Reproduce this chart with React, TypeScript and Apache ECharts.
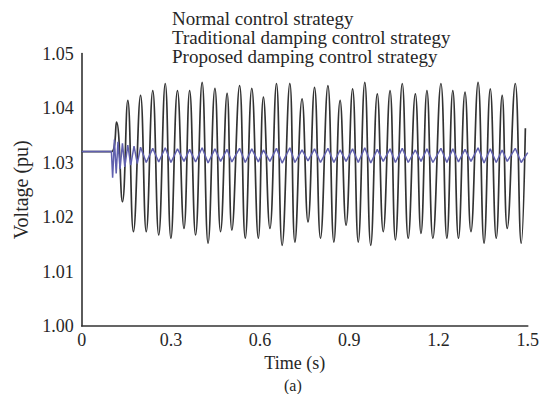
import React, { useEffect, useRef } from "react";
import * as echarts from "echarts";

const seriesNames = [
  "Normal control strategy",
  "Traditional damping control strategy",
  "Proposed damping control strategy",
];

const xTicks = [0, 0.3, 0.6, 0.9, 1.2, 1.5];
const yTicks = [1.0, 1.01, 1.02, 1.03, 1.04, 1.05];

// Normal control strategy: extrema
const normalTimes = [
  0, 0.1, 0.117, 0.137, 0.155, 0.174, 0.198, 0.217, 0.239, 0.259, 0.281, 0.3,
  0.322, 0.344, 0.363, 0.383, 0.405, 0.425, 0.448, 0.467, 0.489, 0.505, 0.531, 0.55, 0.572, 0.594,
  0.611, 0.633, 0.655, 0.674, 0.7, 0.717, 0.741, 0.761, 0.783, 0.803, 0.828, 0.848, 0.869, 0.889,
  0.911, 0.93, 0.952, 0.972, 0.994, 1.014, 1.037, 1.055, 1.078, 1.098, 1.122, 1.141, 1.161, 1.181,
  1.208, 1.228, 1.248, 1.267, 1.289, 1.309, 1.333, 1.353, 1.374, 1.394, 1.414, 1.431, 1.458, 1.478, 1.492,
];
const normalValues = [
  1.032, 1.032, 1.0374, 1.0228, 1.0414, 1.0173, 1.0423, 1.0173, 1.0432, 1.0167, 1.0445, 1.0161,
  1.0432, 1.0179, 1.0432, 1.0167, 1.0447, 1.0152, 1.0436, 1.0173, 1.0427, 1.0176, 1.0441, 1.0161, 1.0436, 1.0161,
  1.042, 1.0179, 1.0445, 1.0148, 1.0445, 1.0154, 1.0417, 1.0191, 1.0438, 1.0161, 1.0441, 1.0154, 1.0414, 1.0185,
  1.0435, 1.0154, 1.0447, 1.0148, 1.0426, 1.0173, 1.0432, 1.0158, 1.0445, 1.0161, 1.0426, 1.017, 1.0432, 1.0161,
  1.0445, 1.0161, 1.0432, 1.0161, 1.0429, 1.0173, 1.0447, 1.0152, 1.0435, 1.0161, 1.0423, 1.0179, 1.0445, 1.0152, 1.0363,
];

// Proposed damping control strategy
const proposedTimes = [
  0, 0.1, 0.104, 0.11, 0.116, 0.122, 0.129, 0.137, 0.145, 0.155, 0.165, 0.176, 0.187, 0.198,
  0.217, 0.239, 0.259, 0.281, 0.3,
  0.322, 0.344, 0.363, 0.383, 0.405, 0.425, 0.448, 0.467, 0.489, 0.505, 0.531, 0.55, 0.572, 0.594,
  0.611, 0.633, 0.655, 0.674, 0.7, 0.717, 0.741, 0.761, 0.783, 0.803, 0.828, 0.848, 0.869, 0.889,
  0.911, 0.93, 0.952, 0.972, 0.994, 1.014, 1.037, 1.055, 1.078, 1.098, 1.122, 1.141, 1.161, 1.181,
  1.208, 1.228, 1.248, 1.267, 1.289, 1.309, 1.333, 1.353, 1.374, 1.394, 1.414, 1.431, 1.458, 1.478,
  1.5,
];
const proposedValues = [
  1.032, 1.032, 1.0272, 1.0342, 1.028, 1.0338, 1.0288, 1.0335, 1.0292, 1.0332, 1.0295, 1.033, 1.0298, 1.0328,
  1.03, 1.0326, 1.0301, 1.0327, 1.03,
  1.0325, 1.0302, 1.0324, 1.0301, 1.0327, 1.0299, 1.0325, 1.0302, 1.0324, 1.0301, 1.0326, 1.03, 1.0325, 1.0301,
  1.0323, 1.0302, 1.0326, 1.0299, 1.0327, 1.03, 1.0323, 1.0303, 1.0325, 1.03, 1.0326, 1.03, 1.0323, 1.0302,
  1.0325, 1.03, 1.0327, 1.0299, 1.0324, 1.0302, 1.0325, 1.03, 1.0326, 1.03, 1.0323, 1.0302, 1.0325, 1.03,
  1.0326, 1.03, 1.0325, 1.0301, 1.0324, 1.0302, 1.0327, 1.0299, 1.0325, 1.03, 1.0323, 1.0302, 1.0326, 1.03,
  1.0318,
];

const FONT = "'Liberation Serif', 'DejaVu Serif', serif";
const TEXT = "#262626";

export default function App() {
  const ref = useRef<HTMLDivElement>(null);
  useEffect(() => {
    if (!ref.current) return;
    const chart = echarts.init(ref.current, undefined, { renderer: "svg" });
    const zip = (t: number[], v: number[]) => t.map((x, i) => [x, v[i]]);
    chart.setOption({
      animation: false,
      backgroundColor: "#fff",
      grid: { left: 81.7, right: 10.3, top: 53.5, bottom: 68 },
      legend: {
        data: seriesNames,
        orient: "vertical",
        left: 167,
        top: 9,
        padding: 0,
        itemGap: 0,
        itemWidth: 0,
        itemHeight: 14,
        icon: "rect",
        selectedMode: false,
        textStyle: { fontFamily: FONT, fontSize: 19, color: TEXT, lineHeight: 19 },
      },
      xAxis: {
        type: "value",
        min: 0,
        max: 1.5,
        interval: 0.3,
        name: "Time (s)",
        nameLocation: "middle",
        nameGap: 28,
        nameTextStyle: { fontFamily: FONT, fontSize: 18, color: TEXT, lineHeight: 18, padding: [0, 20, 0, 0] },
        axisLine: { lineStyle: { color: "#333", width: 1.6 } },
        axisTick: { show: false },
        splitLine: { show: false },
        axisLabel: {
          fontFamily: FONT,
          fontSize: 18,
          color: TEXT,
          margin: 5,
          formatter: (v: number) => {
            const t = xTicks.find((k) => Math.abs(k - v) < 1e-6);
            return t === undefined ? "" : t === 0 ? "0" : t.toFixed(1);
          },
        },
      },
      yAxis: {
        type: "value",
        min: 1.0,
        max: 1.05,
        interval: 0.01,
        name: "Voltage (pu)",
        nameLocation: "middle",
        nameGap: 44,
        nameTextStyle: { fontFamily: FONT, fontSize: 20, color: TEXT },
        axisLine: { show: true, lineStyle: { color: "#333", width: 1.6 } },
        axisTick: { show: false },
        splitLine: { show: false },
        axisLabel: {
          fontFamily: FONT,
          fontSize: 18,
          color: TEXT,
          margin: 8,
          formatter: (v: number) => {
            const t = yTicks.find((k) => Math.abs(k - v) < 1e-6);
            return t === undefined ? "" : t.toFixed(2);
          },
        },
      },
      graphic: [
        {
          type: "text",
          left: 284,
          top: 377,
          style: { text: "(a)", fontFamily: FONT, fontSize: 16, fill: TEXT },
        },
      ],
      series: [
        {
          name: seriesNames[0],
          type: "line",
          data: zip(normalTimes, normalValues),
          showSymbol: false,
          smooth: 0.45,
          lineStyle: { color: "#333333", width: 1.7 },
          itemStyle: { color: "#333333" },
          z: 2,
        },
        {
          name: seriesNames[1],
          type: "line",
          data: [],
          showSymbol: false,
          lineStyle: { color: "#c8a050", width: 1.4 },
          itemStyle: { color: "#c8a050" },
          z: 3,
        },
        {
          name: seriesNames[2],
          type: "line",
          data: zip(proposedTimes, proposedValues),
          showSymbol: false,
          lineStyle: { color: "#6060ae", width: 1.5 },
          itemStyle: { color: "#6060ae" },
          z: 4,
        },
      ],
    });
    return () => chart.dispose();
  }, []);
  return <div ref={ref} style={{ width: 542, height: 394, position: "absolute", left: 0, top: 0 }} />;
}
